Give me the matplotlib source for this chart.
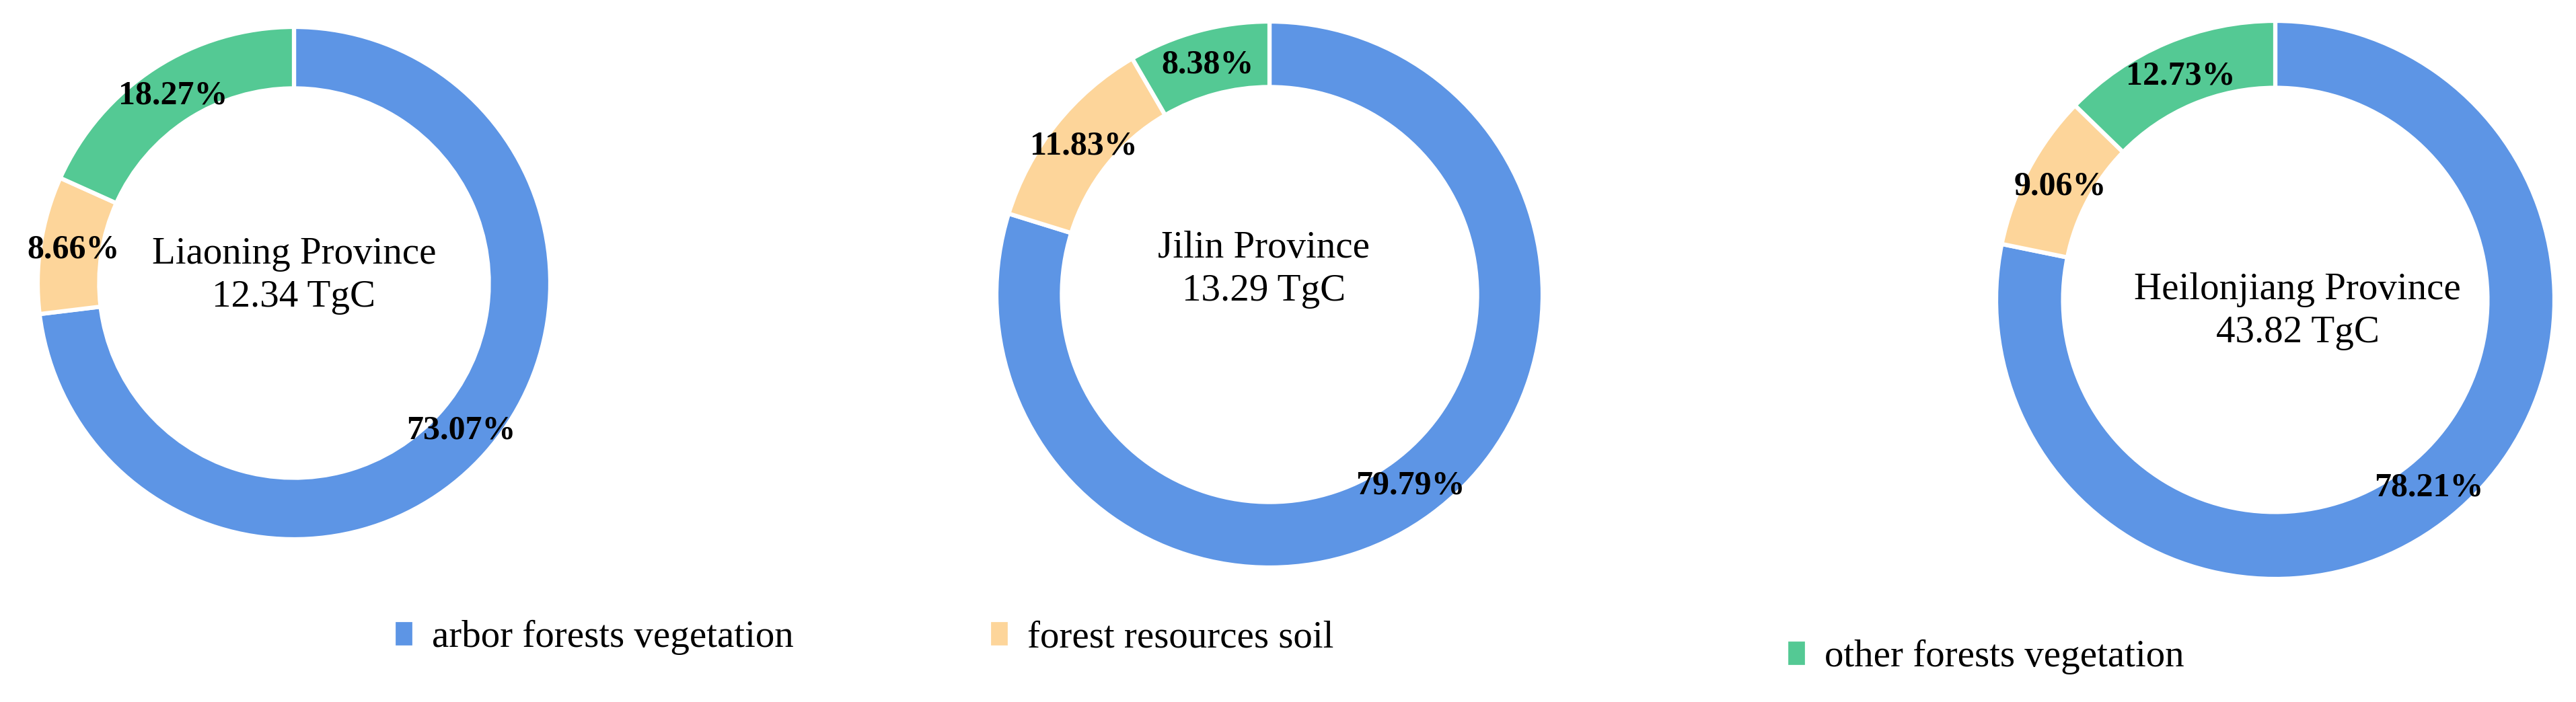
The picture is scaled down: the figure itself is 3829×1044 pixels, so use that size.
import matplotlib
matplotlib.use("Agg")
import matplotlib.pyplot as plt

plt.rcParams['font.family'] = ['Liberation Serif', 'DejaVu Serif']

categories = ['arbor forests vegetation', 'forest resources soil', 'other forests vegetation']
colors = ['#5D95E5', '#FDD59A', '#54C994']

provinces = ['Liaoning Province', 'Jilin Province', 'Heilonjiang Province']
totals = ['12.34 TgC', '13.29 TgC', '43.82 TgC']

liaoning = [73.07, 8.66, 18.27]
jilin = [79.79, 11.83, 8.38]
heilongjiang = [78.21, 9.06, 12.73]
shares = [liaoning, jilin, heilongjiang]

W, H = 3830, 1044
fig = plt.figure(figsize=(W / 100, H / 100), dpi=100)

# donut centre (px from left/top) and outer radius in px
layout = [(437, 421, 381), (1887, 438, 406), (3382, 446, 415)]
# offset of the centre caption, in radius units
caption_offset = [(0.0, 0.03), (-0.02, 0.09), (0.08, -0.04)]

wedges_first = None
for i, (cx, cy, r) in enumerate(layout):
    ax = fig.add_axes([(cx - r) / W, (H - cy - r) / H, 2 * r / W, 2 * r / H])
    wedges, _, autotexts = ax.pie(
        shares[i], colors=colors, startangle=90, counterclock=False,
        radius=1, autopct=lambda p: f'{p:.2f}%', pctdistance=0.87,
        wedgeprops=dict(width=0.24, edgecolor='white', linewidth=4.5),
        textprops=dict(fontsize=36, fontweight='bold', color='black'))
    ax.set_xlim(-1, 1)
    ax.set_ylim(-1, 1)
    ax.set_aspect('equal')
    ax.axis('off')
    dx, dy = caption_offset[i]
    ax.text(dx, dy, f'{provinces[i]}\n{totals[i]}', ha='center', va='center',
            fontsize=41, linespacing=1.3)
    if wedges_first is None:
        wedges_first = wedges

# legend entries spread along the bottom
legend_pos = [(585, 948), (1470, 948), (2655, 977)]
for k, (lx, ly) in enumerate(legend_pos):
    fig.legend([wedges_first[k]], [categories[k]], loc='center left',
               bbox_to_anchor=(lx / W, 1 - ly / H), frameon=False,
               fontsize=41, handlelength=0.55, handleheight=0.75,
               handletextpad=0.45, borderpad=0, borderaxespad=0)

fig.savefig('out.png', dpi=100)
